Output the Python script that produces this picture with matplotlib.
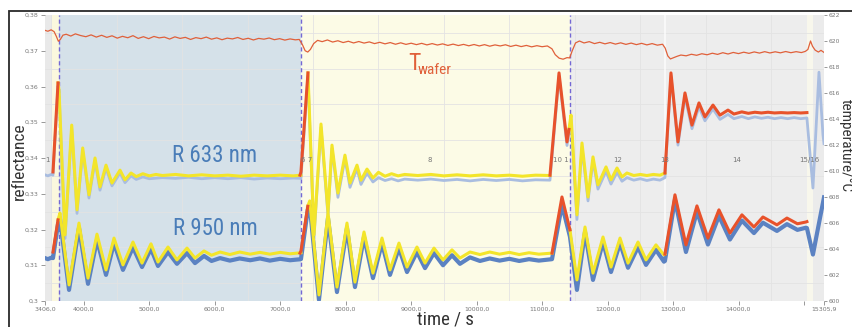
import matplotlib
matplotlib.use("Agg")
import matplotlib.pyplot as plt
from matplotlib.ticker import MultipleLocator, FixedLocator, FixedFormatter
from matplotlib.patches import Rectangle

# ---------------- data ----------------
# wafer temperature (right axis, degC)
tw_t = [3406, 3450, 3500, 3545, 3580, 3610, 3640, 3680,
        3730, 3800, 3870, 3950, 4030, 4110, 4190, 4270, 4350, 4430, 4510, 4590,
        4670, 4750, 4830, 4910, 4990, 5070, 5150, 5230, 5310, 5390, 5470, 5550,
        5630, 5710, 5790, 5870, 5950, 6030, 6110, 6190, 6270, 6350, 6430, 6510,
        6590, 6670, 6750, 6830, 6910, 6990, 7070, 7150, 7230, 7290,
        7340, 7380, 7420, 7460, 7510, 7570,
        7640, 7720, 7800, 7880, 7960, 8040, 8120, 8200, 8280, 8360, 8440, 8520,
        8600, 8680, 8760, 8840, 8920, 9000, 9080, 9160, 9240, 9320, 9400, 9480,
        9560, 9640, 9720, 9800, 9880, 9960, 10040, 10120, 10200, 10280, 10360,
        10440, 10520, 10600, 10680, 10760, 10840, 10920, 11000, 11080,
        11150, 11200, 11260, 11320, 11380, 11420, 11460, 11510, 11570,
        11640, 11720, 11800, 11880, 11960, 12040, 12120, 12200, 12280, 12360,
        12440, 12520, 12600, 12680, 12760, 12840,
        12880, 12920, 12960, 13000, 13060,
        13120, 13200, 13280, 13360, 13440, 13520, 13600, 13680, 13760, 13840,
        13920, 14000, 14080, 14160, 14240, 14320, 14400, 14480, 14560, 14640,
        14720, 14800, 14880, 14960, 15020,
        15060, 15100, 15130, 15170, 15220, 15260, 15306]
tw_v = [620.82, 620.75, 620.86, 620.72, 620.35, 619.98, 620.12, 620.45,
        620.52, 620.38, 620.55, 620.42, 620.33, 620.47, 620.30, 620.44, 620.28, 620.40, 620.22, 620.36,
        620.25, 620.41, 620.20, 620.33, 620.18, 620.35, 620.24, 620.30, 620.15, 620.32, 620.20, 620.28,
        620.12, 620.26, 620.18, 620.30, 620.14, 620.24, 620.10, 620.22, 620.16, 620.27, 620.12, 620.21,
        620.08, 620.20, 620.14, 620.23, 620.10, 620.18, 620.07, 620.16, 620.09, 620.12,
        619.70, 619.25, 619.15, 619.35, 619.80, 620.05,
        619.95, 620.08, 619.92, 620.02, 619.88, 619.98, 619.85, 619.96, 619.84, 619.93, 619.80, 619.90,
        619.78, 619.88, 619.75, 619.86, 619.74, 619.83, 619.72, 619.82, 619.70, 619.80, 619.69, 619.78,
        619.66, 619.76, 619.65, 619.74, 619.63, 619.73, 619.62, 619.72, 619.60, 619.70, 619.62,
        619.71, 619.58, 619.68, 619.57, 619.66, 619.55, 619.64, 619.56, 619.62,
        619.40, 618.95, 618.68, 618.60, 618.72, 618.70, 619.25, 619.85, 620.00,
        619.85, 619.95, 619.80, 619.90, 619.78, 619.88, 619.76, 619.86, 619.74, 619.84,
        619.72, 619.82, 619.70, 619.80, 619.68, 619.75,
        619.45, 618.85, 618.62, 618.70, 618.82,
        618.92, 618.86, 618.98, 618.90, 619.02, 618.94, 619.06, 618.97, 619.10, 619.00,
        619.12, 619.03, 619.14, 619.05, 619.16, 619.07, 619.18, 619.08, 619.17, 619.09,
        619.19, 619.10, 619.18, 619.11, 619.20,
        619.35, 620.00, 619.60, 619.30, 619.15, 619.28, 619.12]

# R 633 nm - measured (light blue), whole run
b633_t = [3406, 3450, 3500, 3528, 3605, 3620, 3712, 3814, 3895, 3982, 4078, 4170,
          4246, 4338, 4429, 4552, 4628, 4720, 4800, 4900, 5000, 5200, 5400, 5600,
          5800, 6000, 6200, 6400, 6600, 6800, 7000, 7200, 7316,
          7423, 7515, 7622, 7729, 7790, 7881, 7988, 8065, 8172, 8233, 8325, 8416,
          8500, 8600, 8700, 8800, 8900, 9100, 9300, 9500, 9700, 9900, 10100, 10300,
          10500, 10700, 10900, 11120,
          11258, 11380, 11441, 11532, 11609, 11701, 11777, 11853, 11976, 12052,
          12144, 12220, 12296, 12400, 12500, 12600, 12700, 12800, 12876,
          12968, 13075, 13182, 13289, 13396, 13487, 13610, 13717, 13839, 13930,
          14050, 14150, 14250, 14350, 14450, 14550, 14650, 14750, 14850, 14950, 15045,
          15137, 15229, 15290, 15306]
b633_r = [0.3353, 0.3350, 0.3354, 0.3352, 0.3602, 0.3585, 0.3175, 0.3484, 0.3245, 0.3420, 0.3288, 0.3392,
          0.3310, 0.3372, 0.3322, 0.3358, 0.3331, 0.3350, 0.3340, 0.3347, 0.3342, 0.3345, 0.3343, 0.3346,
          0.3342, 0.3345, 0.3342, 0.3345, 0.3341, 0.3344, 0.3342, 0.3344, 0.3343,
          0.3630, 0.3175, 0.3486, 0.3238, 0.3427, 0.3290, 0.3398, 0.3318, 0.3370, 0.3326, 0.3358, 0.3333,
          0.3345, 0.3337, 0.3342, 0.3336, 0.3341, 0.3338, 0.3341, 0.3337, 0.3340, 0.3336, 0.3340, 0.3337,
          0.3340, 0.3336, 0.3339, 0.3338,
          0.3630, 0.3435, 0.3510, 0.3228, 0.3430, 0.3280, 0.3392, 0.3313, 0.3363, 0.3327,
          0.3360, 0.3335, 0.3345, 0.3338, 0.3342, 0.3337, 0.3341, 0.3338, 0.3345,
          0.3630, 0.3436, 0.3572, 0.3482, 0.3543, 0.3504, 0.3537, 0.3508, 0.3522, 0.3510,
          0.3516, 0.3510, 0.3515, 0.3511, 0.3514, 0.3510, 0.3513, 0.3510, 0.3513, 0.3510, 0.3512,
          0.3316, 0.3640, 0.3465, 0.3440]

# R 633 nm - model, layer phases (yellow)
y633a_t = [3605, 3620, 3712, 3814, 3895, 3982, 4078, 4170, 4246, 4338, 4429, 4552, 4628,
           4720, 4800, 4900, 5000, 5100, 5200, 5400, 5600, 5800, 6000, 6200, 6400,
           6600, 6800, 7000, 7200, 7316]
y633a_r = [0.3610, 0.3590, 0.3185, 0.3492, 0.3255, 0.3428, 0.3297, 0.3400, 0.3319, 0.3380, 0.3330, 0.3366, 0.3339,
           0.3358, 0.3348, 0.3356, 0.3350, 0.3354, 0.3351, 0.3354, 0.3350, 0.3353, 0.3350, 0.3352, 0.3349,
           0.3352, 0.3350, 0.3352, 0.3350, 0.3352]
y633b_t = [7423, 7515, 7622, 7729, 7790, 7881, 7988, 8065, 8172, 8233, 8325, 8416,
           8500, 8600, 8700, 8800, 8900, 9100, 9300, 9500, 9700, 9900, 10100, 10300,
           10500, 10700, 10900, 11120]
y633b_r = [0.3638, 0.3185, 0.3495, 0.3249, 0.3436, 0.3302, 0.3408, 0.3330, 0.3380, 0.3338, 0.3369, 0.3344,
           0.3360, 0.3349, 0.3356, 0.3350, 0.3354, 0.3351, 0.3354, 0.3350, 0.3353, 0.3350, 0.3353, 0.3350,
           0.3352, 0.3349, 0.3352, 0.3351]
y633c_t = [11410, 11441, 11532, 11609, 11701, 11777, 11853, 11976, 12052, 12144, 12220,
           12296, 12400, 12500, 12600, 12700, 12800, 12876]
y633c_r = [0.3480, 0.3520, 0.3241, 0.3442, 0.3291, 0.3403, 0.3325, 0.3375, 0.3339, 0.3372, 0.3347,
           0.3358, 0.3351, 0.3354, 0.3351, 0.3354, 0.3352, 0.3358]

# R 633 nm - model, transition phases (red)
r633a_t = [3528, 3605]
r633a_r = [0.3361, 0.3610]
r633b_t = [7301, 7316, 7423]
r633b_r = [0.3352, 0.3361, 0.3638]
r633c_t = [11120, 11258, 11380, 11410]
r633c_r = [0.3352, 0.3638, 0.3445, 0.3480]
r633d_t = [12876, 12968, 13075, 13182, 13289, 13396, 13487, 13610, 13717, 13839, 13930,
           14050, 14150, 14250, 14350, 14450, 14550, 14650, 14750, 14850, 14950, 15045]
r633d_r = [0.3358, 0.3638, 0.3445, 0.3582, 0.3492, 0.3554, 0.3515, 0.3548, 0.3520, 0.3534, 0.3523,
           0.3529, 0.3525, 0.3528, 0.3526, 0.3528, 0.3526, 0.3527, 0.3526, 0.3527, 0.3526, 0.3527]

# R 950 nm - measured (blue), whole run
b950_t = [3406, 3450, 3500, 3528, 3605, 3635, 3773, 3925, 4063, 4200, 4338, 4460, 4597,
          4750, 4888, 5025, 5132, 5285, 5422, 5575, 5697, 5835, 5950, 6080, 6230,
          6380, 6540, 6690, 6840, 7000, 7150, 7316,
          7420, 7450, 7591, 7729, 7866, 8019, 8141, 8279, 8416, 8554, 8676, 8813,
          8936, 9088, 9211, 9348, 9486, 9623, 9745, 9898, 10050, 10200, 10350,
          10500, 10650, 10800, 10950, 11151,
          11303, 11425, 11532, 11655, 11777, 11930, 12052, 12190, 12312, 12465,
          12587, 12739, 12861, 12876,
          13029, 13197, 13365, 13533, 13701, 13869, 14052, 14236, 14373, 14587,
          14740, 14900, 15030, 15045, 15137, 15200, 15306]
b950_r = [0.3120, 0.3117, 0.3121, 0.3120, 0.3215, 0.3230, 0.3031, 0.3204, 0.3048, 0.3171, 0.3073, 0.3162, 0.3087,
          0.3150, 0.3095, 0.3146, 0.3098, 0.3137, 0.3104, 0.3134, 0.3106, 0.3126, 0.3112, 0.3120, 0.3113,
          0.3119, 0.3114, 0.3119, 0.3113, 0.3118, 0.3114, 0.3117,
          0.3255, 0.3268, 0.3003, 0.3232, 0.3025, 0.3204, 0.3039, 0.3179, 0.3064, 0.3162, 0.3073, 0.3148,
          0.3081, 0.3137, 0.3092, 0.3134, 0.3100, 0.3128, 0.3104, 0.3122, 0.3112, 0.3119, 0.3113,
          0.3118, 0.3112, 0.3117, 0.3113, 0.3117,
          0.3269, 0.3180, 0.3031, 0.3193, 0.3059, 0.3165, 0.3081, 0.3162, 0.3093, 0.3151,
          0.3101, 0.3143, 0.3110, 0.3112,
          0.3283, 0.3137, 0.3250, 0.3158, 0.3238, 0.3172, 0.3225, 0.3190, 0.3219, 0.3196,
          0.3215, 0.3199, 0.3205, 0.3204, 0.3130, 0.3190, 0.3290]

# R 950 nm - model (yellow)
y950a_t = [3605, 3635, 3773, 3925, 4063, 4200, 4338, 4460, 4597, 4750, 4888, 5025, 5132,
           5285, 5422, 5575, 5697, 5835, 5950, 6080, 6230, 6380, 6540, 6690, 6840,
           7000, 7150, 7316]
y950a_r = [0.3227, 0.3246, 0.3045, 0.3218, 0.3064, 0.3187, 0.3087, 0.3176, 0.3101, 0.3165, 0.3106, 0.3160, 0.3109,
           0.3151, 0.3115, 0.3148, 0.3120, 0.3140, 0.3128, 0.3137, 0.3130, 0.3137, 0.3131, 0.3136, 0.3131,
           0.3136, 0.3132, 0.3135]
y950b_t = [7420, 7450, 7591, 7729, 7866, 8019, 8141, 8279, 8416, 8554, 8676, 8813, 8936,
           9088, 9211, 9348, 9486, 9623, 9745, 9898, 10050, 10200, 10350, 10500, 10650,
           10800, 10950, 11151]
y950b_r = [0.3265, 0.3280, 0.3017, 0.3246, 0.3039, 0.3218, 0.3053, 0.3193, 0.3078, 0.3176, 0.3087, 0.3162, 0.3095,
           0.3151, 0.3106, 0.3148, 0.3115, 0.3143, 0.3120, 0.3137, 0.3130, 0.3137, 0.3131, 0.3136, 0.3130,
           0.3135, 0.3131, 0.3134]
y950c_t = [11425, 11532, 11655, 11777, 11930, 12052, 12190, 12312, 12465, 12587, 12739, 12861, 12876]
y950c_r = [0.3199, 0.3059, 0.3207, 0.3078, 0.3179, 0.3095, 0.3176, 0.3106, 0.3165, 0.3115, 0.3157, 0.3129, 0.3131]

# R 950 nm - model, transitions (red)
r950a_t = [3528, 3605]
r950a_r = [0.3137, 0.3227]
r950b_t = [7301, 7316, 7420]
r950b_r = [0.3134, 0.3140, 0.3265]
r950c_t = [11151, 11303, 11425]
r950c_r = [0.3134, 0.3291, 0.3199]
r950d_t = [12876, 13029, 13197, 13365, 13533, 13701, 13869, 14052, 14236, 14373, 14587,
           14740, 14900, 15030, 15045]
r950d_r = [0.3131, 0.3297, 0.3157, 0.3266, 0.3176, 0.3255, 0.3190, 0.3241, 0.3207, 0.3235, 0.3213,
           0.3232, 0.3216, 0.3221, 0.3222]

# process phases
phase_edges = [3406, 3520, 3620, 7316, 11425, 15040, 15140, 15305.9]
phase_colors = ["#e9e9e9", "#fbf8de", "#d5e1e9", "#fcfbe6", "#ededed", "#f8f7ec", "#ebebeb"]
step_lines = [3620, 7316, 11425]
step_names = ["1", "6 7", "8", "10 1", "12", "13", "14", "15/16"]
step_pos = [3437, 7408, 9287, 11288, 12159, 12877, 13977, 15076]

x_ticks = [3406, 4000, 5000, 6000, 7000, 8000, 9000, 10000, 11000, 12000, 13000, 14000, 15000, 15305.9]
r_ticks = [0.30, 0.31, 0.32, 0.33, 0.34, 0.35, 0.36, 0.37, 0.38]
t_ticks = [600, 602, 604, 606, 608, 610, 612, 614, 616, 618, 620, 622]

NARROW = ["Roboto Condensed", "IBM Plex Sans Condensed", "DejaVu Sans"]
YEL = "#f3e52a"
RED = "#e8522b"
BLUE = "#5b82c2"
LBLUE = "#a9bde0"


def main():
    fig = plt.figure(figsize=(8.52, 3.27), dpi=100)
    ax = fig.add_axes([45 / 852, 26 / 327, 779 / 852, 286 / 327])
    ax.set_xlim(3406, 15305.9)
    ax.set_ylim(0.30, 0.38)

    for i, c in enumerate(phase_colors):
        ax.axvspan(phase_edges[i], phase_edges[i + 1], color=c, zorder=0, lw=0)
    ax.axvline(12876, color="white", lw=1.2, alpha=0.8, zorder=0.6)
    for x in step_lines:
        ax.axvline(x, color="#7468d4", lw=1.0, ls=(0, (3, 2)), zorder=1.5)

    ax.xaxis.set_minor_locator(MultipleLocator(500))
    ax.yaxis.set_minor_locator(MultipleLocator(0.005))
    ax.set_axisbelow(True)
    ax.grid(which="minor", color="#e3e3e3", lw=0.6)

    # measured
    ax.plot(b633_t, b633_r, color=LBLUE, lw=2.0, zorder=2)
    ax.plot(b950_t, b950_r, color=BLUE, lw=3.0, zorder=2)
    # model, layers
    for t, r in [(y633a_t, y633a_r), (y633b_t, y633b_r), (y633c_t, y633c_r),
                 (y950a_t, y950a_r), (y950b_t, y950b_r), (y950c_t, y950c_r)]:
        ax.plot(t, r, color=YEL, lw=2.2, zorder=3)
    # model, transitions
    for t, r in [(r633a_t, r633a_r), (r633b_t, r633b_r), (r633c_t, r633c_r), (r633d_t, r633d_r),
                 (r950a_t, r950a_r), (r950b_t, r950b_r), (r950c_t, r950c_r), (r950d_t, r950d_r)]:
        ax.plot(t, r, color=RED, lw=2.2, zorder=4)

    for name, x in zip(step_names, step_pos):
        ax.text(x, 0.3389, name, fontsize=5, color="#777777", ha="center", zorder=5)

    ax.text(6003, 0.3389, "R 633 nm", family=NARROW, fontsize=16.5, color="#4a7db8",
            ha="center", va="baseline", zorder=6)
    ax.text(6003, 0.3185, "R 950 nm", family=NARROW, fontsize=16.5, color="#4a7db8",
            ha="center", va="baseline", zorder=6)
    ax.text(8951, 0.3646, "T", family=NARROW, fontsize=17, color="#e0603a",
            ha="left", va="baseline", zorder=6)
    ax.text(9104, 0.3635, "wafer", family=NARROW, fontsize=11, color="#e0603a",
            ha="left", va="baseline", zorder=6)

    ax.xaxis.set_major_locator(FixedLocator(x_ticks))
    ax.xaxis.set_major_formatter(FixedFormatter(
        ["" if v == 15000 else f"{v:.1f}".replace(".", ",") for v in x_ticks]))
    ax.yaxis.set_major_locator(FixedLocator(r_ticks))
    ax.yaxis.set_major_formatter(FixedFormatter([f"{v:g}".replace(".", ",") for v in r_ticks]))
    ax.tick_params(which="major", length=3, width=0.6, color="#888888",
                   labelsize=4.5, labelcolor="#777777", pad=1.5)
    ax.tick_params(which="minor", length=0)
    for s in ax.spines.values():
        s.set_visible(False)

    ax2 = ax.twinx()
    ax2.set_ylim(600, 622)
    ax2.plot(tw_t, tw_v, color="#e0603a", lw=0.9, zorder=5)
    ax2.yaxis.set_major_locator(FixedLocator(t_ticks))
    ax2.yaxis.set_major_formatter(FixedFormatter([str(v) for v in t_ticks]))
    ax2.tick_params(length=2.5, width=0.6, color="#888888", labelsize=4.3,
                    labelcolor="#777777", pad=0.5)
    for s in ax2.spines.values():
        s.set_visible(False)

    fig.text(19 / 852, 1 - 161 / 327, "reflectance", family=NARROW, fontsize=12.5,
             color="#333333", rotation=90, ha="center", va="center")
    fig.text(846 / 852, 1 - 146 / 327, "temperature/°C", family=NARROW, fontsize=11,
             color="#333333", rotation=270, ha="center", va="center")
    fig.text(445 / 852, 1 - 319.5 / 327, "time / s", family=NARROW, fontsize=13.5,
             color="#333333", ha="center", va="center")

    fig.patches.append(Rectangle((9 / 852, -0.1), 1.0, 1.1 - 11 / 327, fill=False,
                                 edgecolor="#2a2a2a", lw=1.3, transform=fig.transFigure))

    fig.savefig("out.png", dpi=100)


if __name__ == "__main__":
    main()
